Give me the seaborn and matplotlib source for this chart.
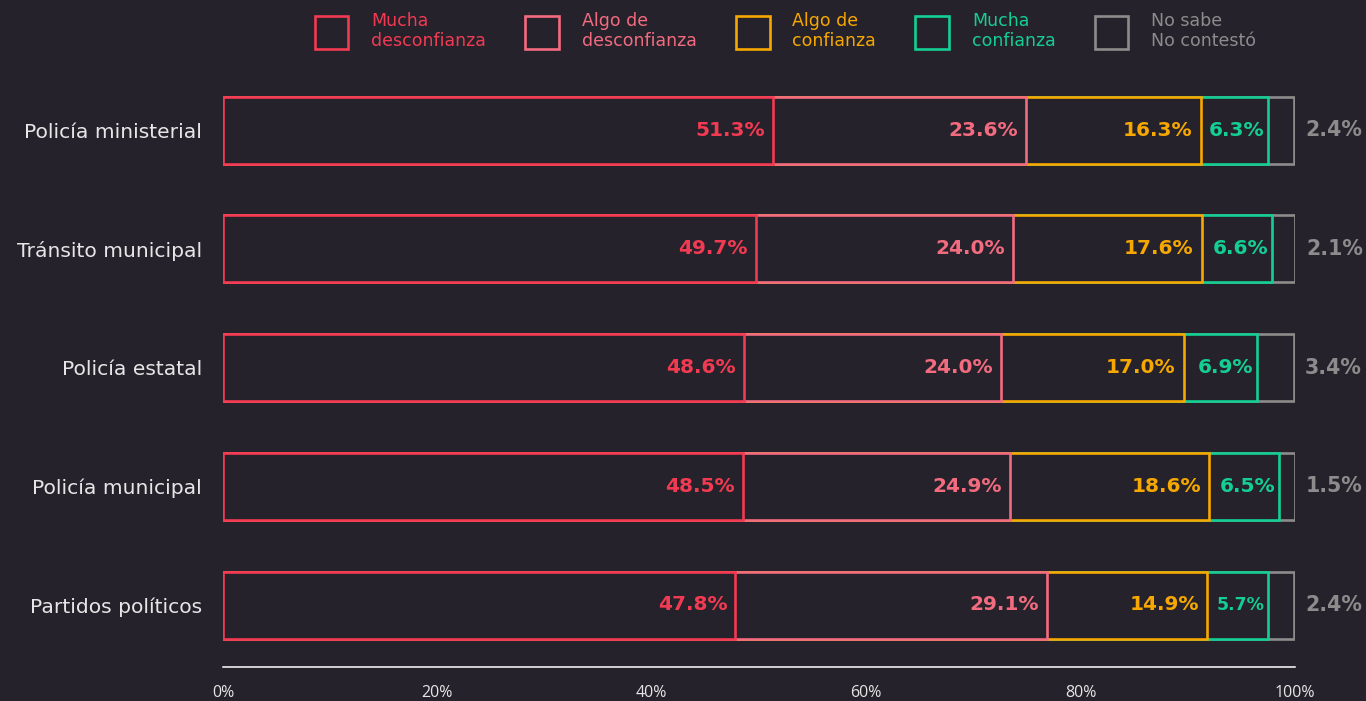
import matplotlib
matplotlib.use("Agg")
import matplotlib.pyplot as plt
import seaborn as sns
import pandas as pd
import numpy as np
from matplotlib.patches import Patch
from matplotlib.ticker import PercentFormatter

# Survey results: trust in institutions (%)
categories = ["Policía ministerial", "Tránsito municipal", "Policía estatal",
              "Policía municipal", "Partidos políticos"]
mucha_desconfianza = [51.3, 49.7, 48.6, 48.5, 47.8]
algo_desconfianza = [23.6, 24.0, 24.0, 24.9, 29.1]
algo_confianza = [16.3, 17.6, 17.0, 18.6, 14.9]
mucha_confianza = [6.3, 6.6, 6.9, 6.5, 5.7]
no_sabe = [2.4, 2.1, 3.4, 1.5, 2.4]

series_names = ["Mucha\ndesconfianza", "Algo de\ndesconfianza", "Algo de\nconfianza",
                "Mucha\nconfianza", "No sabe\nNo contestó"]
series_values = [mucha_desconfianza, algo_desconfianza, algo_confianza,
                 mucha_confianza, no_sabe]
tick_values = [0, 20, 40, 60, 80, 100]

BG = "#25222b"
COLORS = ["#f23a52", "#f36b7f", "#f7a800", "#14cf94", "#8c8c8c"]
TEXT = "#e6e6e6"

sns.set_style("dark")
plt.rcParams["font.family"] = ["Open Sans", "DejaVu Sans"]

fig = plt.figure(figsize=(13.66, 7.01), dpi=100, facecolor=BG)
ax = fig.add_axes([223 / 1366, 1 - 667 / 701, 1072 / 1366, (667 - 70) / 701])
ax.set_facecolor(BG)

df = pd.DataFrame({"cat": categories})
vals = np.array(series_values)
cum = np.cumsum(vals, axis=0)
for i in range(len(series_names)):
    df[f"cum{i}"] = cum[i]

BAR_H = 67 / 118.75
# Draw cumulative totals back to front so each segment covers the next one
for i in reversed(range(len(series_names))):
    sns.barplot(data=df, x=f"cum{i}", y="cat", orient="h", ax=ax,
                color=BG, saturation=1, edgecolor=COLORS[i], linewidth=1.9,
                width=BAR_H, errorbar=None)

# Value labels
for i in range(len(series_names)):
    for j, cat in enumerate(categories):
        v = vals[i, j]
        end = cum[i, j]
        label = f"{v:.1f}%"
        if i == len(series_names) - 1:
            ax.annotate(label, (end, j), xytext=(11, 0), textcoords="offset pixels",
                        ha="left", va="center", color=COLORS[i], fontsize=14.8,
                        fontweight="bold", family="DejaVu Sans")
        else:
            fs = 14.5 if v >= 6 else 12.5
            ax.annotate(label, (end, j), xytext=(-8 if v >= 8 else -4, 0),
                        textcoords="offset pixels", ha="right", va="center",
                        color=COLORS[i], fontsize=fs, fontweight="bold",
                        family="DejaVu Sans")

ax.set_xlim(0, 100)
ax.set_ylim(4 + 62 / 118.75, -60 / 118.75)
ax.set_xlabel("")
ax.set_ylabel("")
ax.set_xticks(tick_values)
ax.xaxis.set_major_formatter(PercentFormatter(decimals=0))
ax.tick_params(axis="x", length=0, pad=13, colors=TEXT, labelsize=11.5)
ax.tick_params(axis="y", length=0, pad=15, colors=TEXT, labelsize=14.6)
for t in ax.get_yticklabels():
    t.set_family(["DejaVu Sans"])
ax.grid(False)
for s in ["top", "right", "left"]:
    ax.spines[s].set_visible(False)
ax.spines["bottom"].set_color("#ffffff")
ax.spines["bottom"].set_linewidth(1.1)

handles = [Patch(facecolor="none", edgecolor=c, linewidth=1.9) for c in COLORS]
leg = fig.legend(handles, series_names, loc="upper center", ncol=5,
                 bbox_to_anchor=(0.575, 1.005), frameon=False,
                 prop={"family": "DejaVu Sans", "size": 12.5},
                 handlelength=1.95, handleheight=2.6, handletextpad=1.32,
                 columnspacing=2.24, labelspacing=0.2)
for t, c in zip(leg.get_texts(), COLORS):
    t.set_color(c)
    t.set_linespacing(1.1)

fig.savefig("out.png", dpi=100, facecolor=BG)
